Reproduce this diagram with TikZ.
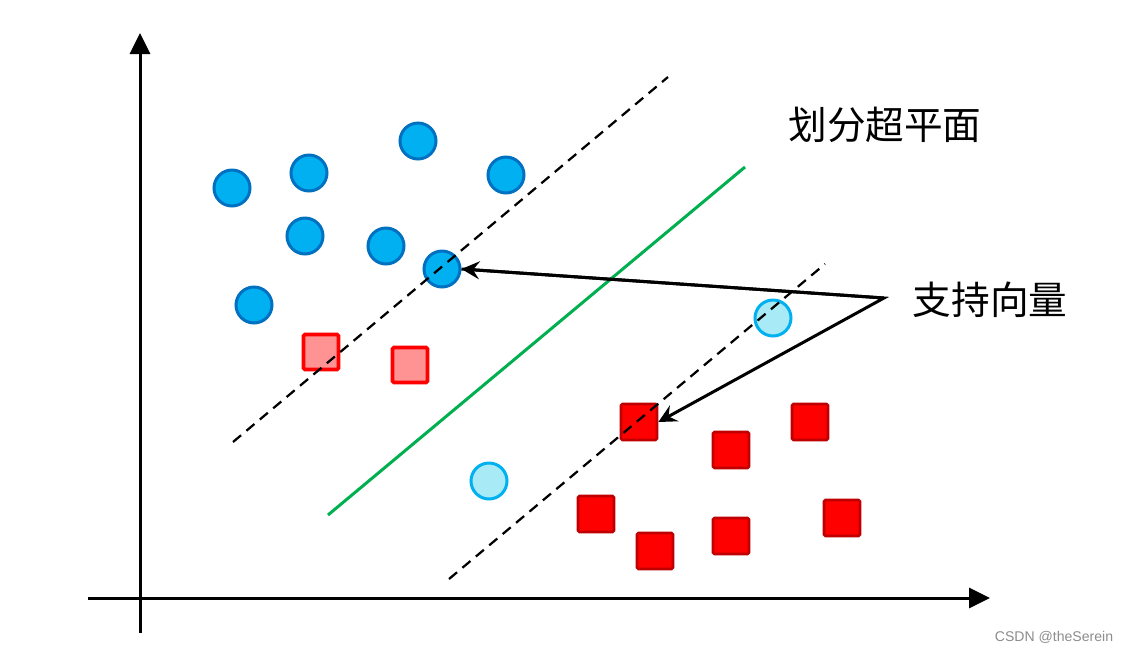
\documentclass[tikz,border=0pt]{standalone}
\usepackage{fontspec}
\setsansfont{Liberation Sans}
\newfontfamily\cjk{Noto Sans CJK SC}
\usepackage{tikz}
\usetikzlibrary{arrows.meta}
\definecolor{ptblue}{HTML}{00B0F0}
\definecolor{ptblueedge}{HTML}{0070C0}
\definecolor{ptlight}{HTML}{A8EAF6}
\definecolor{ptpink}{HTML}{FF9393}
\definecolor{ptred}{HTML}{FF0000}
\definecolor{ptrededge}{HTML}{C00000}
\definecolor{ptgreen}{HTML}{00B050}
\tikzset{
  dot/.style={circle, draw=ptblueedge, fill=ptblue, line width=0.6mm, minimum size=7.2mm, inner sep=0pt},
  lightdot/.style={circle, draw=ptblue, fill=ptlight, line width=0.6mm, minimum size=7.2mm, inner sep=0pt},
  box/.style={rectangle, rounded corners=0.3mm, draw=ptrededge, fill=ptred, line width=0.55mm, minimum size=7.2mm, inner sep=0pt},
  pinkbox/.style={box, draw=ptred, fill=ptpink, line width=0.75mm, minimum size=7mm},
  axis/.style={line width=0.6mm, -{Triangle[width=4mm,length=4.2mm]}},
  margin/.style={line width=0.45mm, dash pattern=on 2.1mm off 1.4mm},
  pointer/.style={line width=0.6mm, -{Stealth[length=3.6mm,width=3.6mm,inset=1.3mm]}},
  label/.style={font=\cjk\fontsize{22}{26}\selectfont, inner sep=0pt},
}

\begin{document}
\begin{tikzpicture}[x=0.2mm, y=-0.2mm]
  \useasboundingbox (0,0) rectangle (1128,654);

  % axes
  \coordinate (ybot) at (140,633);
  \coordinate (ytop) at (140,33);
  \coordinate (xleft) at (88,598);
  \coordinate (xright) at (990,598);
  \draw[axis] (ybot) -- (ytop);
  \draw[axis] (xleft) -- (xright);

  % hyperplane and margins
  \coordinate (hyp1) at (328,515);
  \coordinate (hyp2) at (745,167);
  \coordinate (upa) at (233,442);
  \coordinate (upb) at (668,77);
  \coordinate (loa) at (449,579);
  \coordinate (lob) at (825,264);
  \draw[ptgreen, line width=0.6mm] (hyp1) -- (hyp2);

  % blue class
  \node[dot] (node1) at (232,188) {};
  \node[dot] (node2) at (309,173) {};
  \node[dot] (node3) at (418,141) {};
  \node[dot] (node4) at (506,175) {};
  \node[dot] (node5) at (305,236) {};
  \node[dot] (node6) at (386,246) {};
  \node[dot] (node7) at (442,269) {};
  \node[dot] (node8) at (254,305) {};
  \node[lightdot] (node9) at (489,481) {};
  \node[lightdot] (node10) at (773,318) {};

  % red class
  \node[pinkbox] (sq1) at (321,352) {};
  \node[pinkbox] (sq2) at (410,365) {};
  \node[box] (sq3) at (639,422) {};
  \node[box] (sq4) at (731,450) {};
  \node[box] (sq5) at (810,422) {};
  \node[box] (sq6) at (596,514) {};
  \node[box] (sq7) at (655,551) {};
  \node[box] (sq8) at (731,536) {};
  \node[box] (sq9) at (842,518) {};

  % margins on top of the points
  \draw[margin] (upa) -- (upb);
  \draw[margin] (loa) -- (lob);

  % labels
  \node[label] (hyplabel) at (885,125) {划分超平面};
  \node[label] (svlabel) at (990,300) {支持向量};
  \coordinate (apex) at (884,298);
  \draw[pointer, line join=miter] (node7.east) -- (apex) -- (sq3.east);
  \draw[pointer] (apex) -- (node7.east);

  \node[font=\sffamily\fontsize{8}{9}\selectfont, text=black!45, inner sep=0pt] (mark) at (1054,637) {CSDN @theSerein};
\end{tikzpicture}
\end{document}
